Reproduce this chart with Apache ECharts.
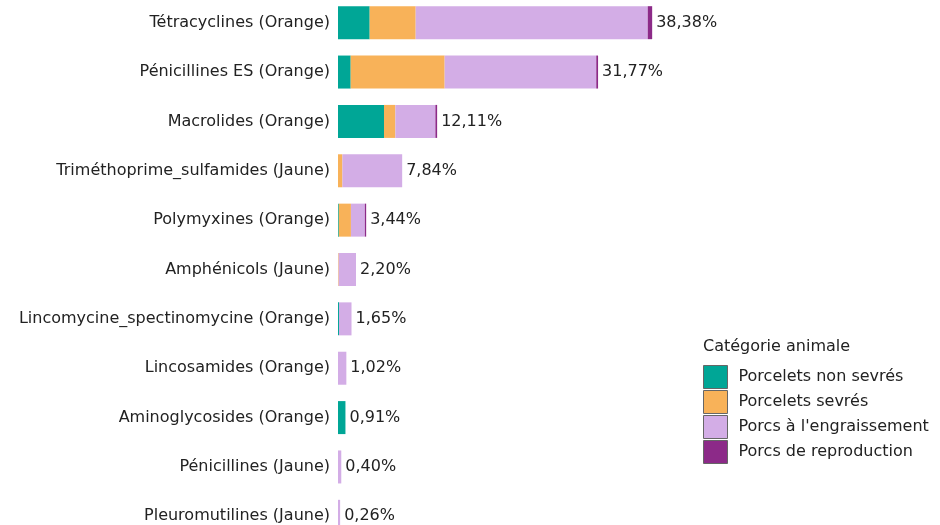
<!DOCTYPE html>
<html>
<head>
<meta charset="utf-8">
<script src="https://cdn.jsdelivr.net/npm/echarts@6/dist/echarts.min.js"></script>
<style>
  html, body { margin: 0; padding: 0; background: #fff; }
  #chart { width: 940px; height: 525px; }
</style>
</head>
<body>
<div id="chart"></div>
<script>
// categories, top to bottom
var categories = [
    'Tétracyclines (Orange)',
    'Pénicillines ES (Orange)',
    'Macrolides (Orange)',
    'Triméthoprime_sulfamides (Jaune)',
    'Polymyxines (Orange)',
    'Amphénicols (Jaune)',
    'Lincomycine_spectinomycine (Orange)',
    'Lincosamides (Orange)',
    'Aminoglycosides (Orange)',
    'Pénicillines (Jaune)',
    'Pleuromutilines (Jaune)'
];
var totals = [38.38, 31.77, 12.11, 7.84, 3.44, 2.20, 1.65, 1.02, 0.91, 0.40, 0.26];

// shares per animal category
var nonSevres    = [3.87, 1.55, 5.62, 0,    0.10, 0,    0.12, 0,    0.91, 0,    0];
var sevres       = [5.62, 11.48, 1.39, 0.54, 1.48, 0.08, 0,    0,    0,    0,    0];
var engraissement = [28.35, 18.52, 4.89, 7.30, 1.70, 2.12, 1.53, 1.02, 0,    0.40, 0.26];
var reproduction = [0.54, 0.22, 0.21, 0,    0.16, 0,    0,    0,    0,    0,    0];

var seriesNames = ['Porcelets non sevrés', 'Porcelets sevrés', "Porcs à l'engraissement", 'Porcs de reproduction'];
var colors = ['#00a696', '#f8b259', '#d3ade6', '#8c2a88'];

var font = 'DejaVu Sans';
var fsize = 16;
var chart = echarts.init(document.getElementById('chart'));

function fmt(v) {
    return v.toFixed(2).replace('.', ',') + '%';
}

function makeSeries(name, data, i) {
    var s = {
        name: name,
        type: 'bar',
        stack: 'total',
        barWidth: 33,
        data: data,
        itemStyle: { color: colors[i] },
        emphasis: { disabled: true }
    };
    if (i === 3) {
        s.label = {
            show: true,
            position: 'right',
            distance: 4,
            color: '#222',
            fontFamily: font,
            fontSize: fsize,
            formatter: function (p) { return fmt(totals[p.dataIndex]); }
        };
    }
    return s;
}

var option = {
    animation: false,
    title: {
        text: 'Catégorie animale',
        left: 703,
        top: 339,
        padding: 0,
        textStyle: { fontFamily: font, fontSize: fsize, fontWeight: 'normal', color: '#222' }
    },
    legend: {
        orient: 'vertical',
        left: 703,
        top: 365,
        padding: 0,
        itemWidth: 24,
        itemHeight: 23,
        itemGap: 1,
        icon: 'rect',
        data: seriesNames,
        itemStyle: { borderColor: '#666', borderWidth: 1 },
        textStyle: { fontFamily: font, fontSize: fsize, color: '#222', padding: [0, 0, 0, 6] },
        selectedMode: false
    },
    grid: {
        left: 338,
        top: -2,
        width: 573,
        height: 543,
        outerBoundsMode: 'none'
    },
    xAxis: {
        type: 'value',
        min: 0,
        max: 70,
        show: false
    },
    yAxis: {
        type: 'category',
        data: categories,
        inverse: true,
        axisLine: { show: false },
        axisTick: { show: false },
        axisLabel: { color: '#222', fontFamily: font, fontSize: fsize, margin: 8 }
    },
    series: [
        makeSeries(seriesNames[0], nonSevres, 0),
        makeSeries(seriesNames[1], sevres, 1),
        makeSeries(seriesNames[2], engraissement, 2),
        makeSeries(seriesNames[3], reproduction, 3)
    ]
};

chart.setOption(option);
</script>
</body>
</html>
